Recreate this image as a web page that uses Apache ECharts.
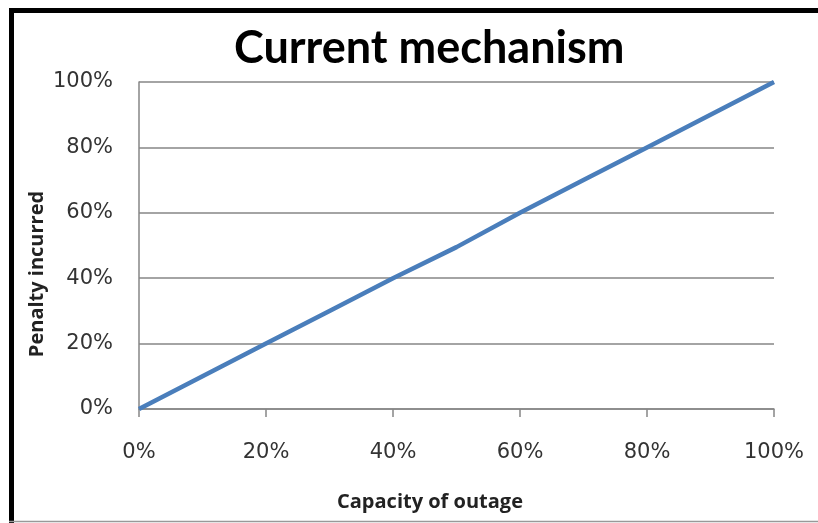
<!DOCTYPE html>
<html>
<head>
<meta charset="utf-8">
<script src="https://cdn.jsdelivr.net/npm/echarts@6/dist/echarts.min.js"></script>
<style>
  html, body { margin: 0; padding: 0; background: #fff; }
  #chart { width: 818px; height: 523px; }
</style>
</head>
<body>
<div id="chart"></div>
<script>
var capacity = [0, 10, 20, 30, 40, 50, 60, 70, 80, 90, 100];
var penalty = [0, 10, 20, 30, 40, 49.5, 60, 70, 80, 90, 100];
var tickLabels = ['0%', '20%', '40%', '60%', '80%', '100%'];

var points = capacity.map(function (c, i) { return [c, penalty[i]]; });

var myChart = echarts.init(document.getElementById('chart'));
var option = {
    backgroundColor: '#fff',
    animation: false,
    title: {
        text: 'Current mechanism',
        left: 229,
        top: 21,
        textStyle: {
            fontFamily: 'Lato',
            fontWeight: 'bold',
            fontSize: 45,
            color: '#000'
        }
    },
    grid: {
        left: 139,
        top: 82,
        right: 44,
        bottom: 114
    },
    xAxis: {
        type: 'value',
        min: 0,
        max: 100,
        interval: 20,
        axisLine: { lineStyle: { color: '#868686', width: 1.5 } },
        axisTick: { show: true, length: 8, lineStyle: { color: '#868686', width: 1.5 } },
        splitLine: { show: false },
        axisLabel: {
            margin: 33,
            fontFamily: 'DejaVu Sans',
            fontSize: 21,
            color: '#333',
            formatter: function (v) { return tickLabels[v / 20]; }
        }
    },
    yAxis: {
        type: 'value',
        min: 0,
        max: 100,
        interval: 20,
        axisLine: { show: true, lineStyle: { color: '#868686', width: 1.5 } },
        axisTick: { show: false },
        splitLine: { lineStyle: { color: '#868686', width: 1.5 } },
        axisLabel: {
            margin: 26,
            fontFamily: 'DejaVu Sans',
            fontSize: 21,
            color: '#333',
            formatter: function (v) { return tickLabels[v / 20]; }
        }
    },
    graphic: [
        // outer frame (left + top black, bottom light gray)
        { type: 'line', shape: { x1: 11.5, y1: 8, x2: 11.5, y2: 523 }, style: { stroke: '#000', lineWidth: 5 } },
        { type: 'line', shape: { x1: 9, y1: 10.5, x2: 818, y2: 10.5 }, style: { stroke: '#000', lineWidth: 5 } },
        { type: 'line', shape: { x1: 9, y1: 521.5, x2: 818, y2: 521.5 }, style: { stroke: '#999', lineWidth: 1.5 } },
        {
            type: 'text',
            x: 430,
            y: 502,
            style: {
                text: 'Capacity of outage',
                fontFamily: 'Open Sans',
                fontWeight: 'bold',
                fontSize: 20,
                fill: '#222',
                textAlign: 'center',
                textVerticalAlign: 'middle'
            }
        },
        {
            type: 'text',
            x: 37,
            y: 274,
            rotation: Math.PI / 2,
            style: {
                text: 'Penalty incurred',
                fontFamily: 'Open Sans',
                fontWeight: 'bold',
                fontSize: 20,
                fill: '#222',
                textAlign: 'center',
                textVerticalAlign: 'middle'
            }
        }
    ],
    series: [{
        type: 'line',
        data: points,
        symbol: 'none',
        lineStyle: { color: '#4a7ebb', width: 4.5 }
    }]
};
myChart.setOption(option);
</script>
</body>
</html>
